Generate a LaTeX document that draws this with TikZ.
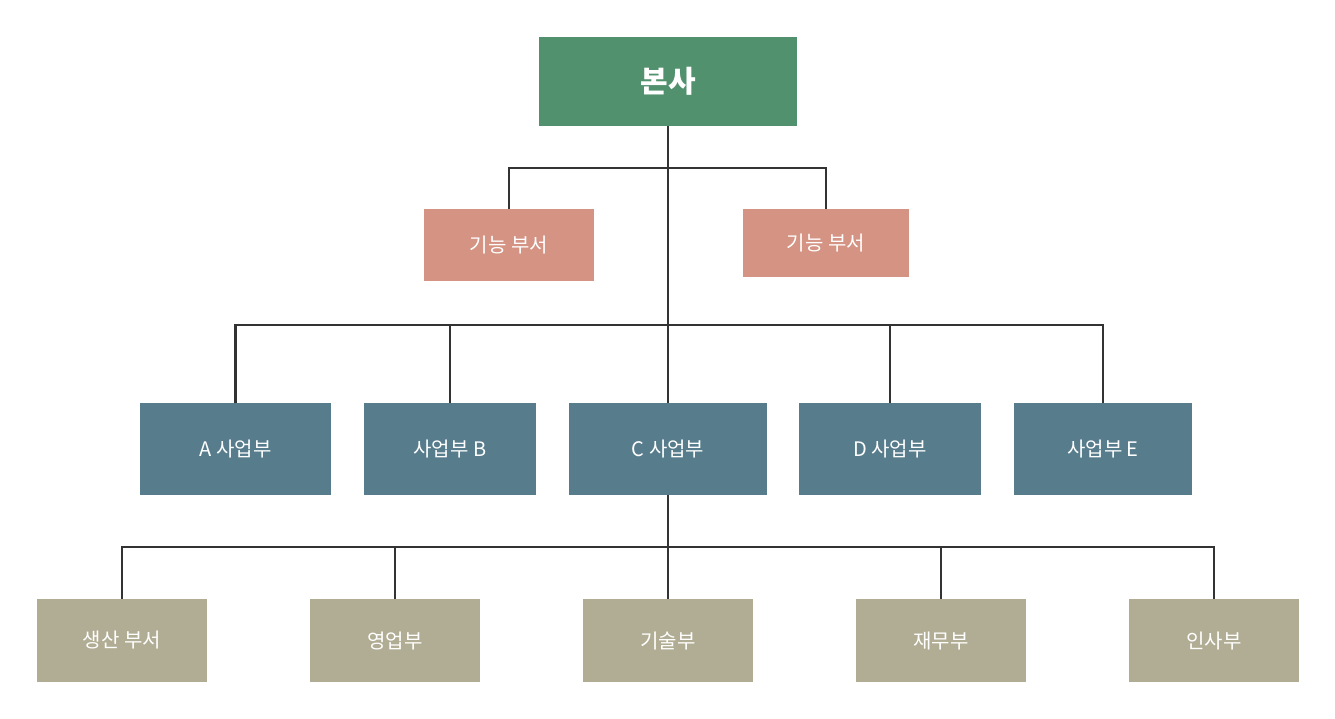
\documentclass[tikz,border=0pt]{standalone}
\usepackage{fontspec}
\setmainfont{Noto Sans CJK KR}
\definecolor{cTop}{HTML}{52916D}
\definecolor{cFun}{HTML}{D49383}
\definecolor{cBiz}{HTML}{577C8C}
\definecolor{cDep}{HTML}{B1AD94}
\definecolor{cLine}{HTML}{333333}
\begin{document}
\begin{tikzpicture}[x=1pt,y=-1pt,
  box/.style={draw=none,inner sep=0pt,text=white,font=\fontsize{20}{23}\selectfont},
  wire/.style={draw=cLine,line width=2.2pt}]
\useasboundingbox[fill=white] (0,0) rectangle (1335,718);
\newcommand{\bx}[7]{\fill[#6] (#2,#3) rectangle (#4,#5);
  \node[box] (#1) at ({(#2+#4)/2},{(#3+#5)/2}) {#7};
  \coordinate (#1t) at ({(#2+#4)/2},#3); \coordinate (#1b) at ({(#2+#4)/2},#5);}
\bx{top}{539}{37}{797}{126}{cTop}{\fontsize{30}{34}\selectfont\bfseries 본사}
\bx{f1}{424}{209}{594}{281}{cFun}{기능 부서}
\bx{f2}{743}{209}{909}{277}{cFun}{기능 부서}
\bx{a}{140}{403}{331}{495}{cBiz}{A 사업부}
\bx{b}{364}{403}{536}{495}{cBiz}{사업부 B}
\bx{c}{569}{403}{767}{495}{cBiz}{C 사업부}
\bx{d}{799}{403}{981}{495}{cBiz}{D 사업부}
\bx{e}{1014}{403}{1192}{495}{cBiz}{사업부 E}
\bx{p1}{37}{599}{207}{682}{cDep}{생산 부서}
\bx{p2}{310}{599}{480}{682}{cDep}{영업부}
\bx{p3}{583}{599}{753}{682}{cDep}{기술부}
\bx{p4}{856}{599}{1026}{682}{cDep}{재무부}
\bx{p5}{1129}{599}{1299}{682}{cDep}{인사부}
% connectors
\draw[wire] (topb) -- (ct);
\draw[wire] (f1t) |- (668,168) -| (f2t);
\foreach \n in {a,b,d,e} \draw[wire] (\n t) |- (668,325);
\draw[wire] (cb) -- (p3t);
\foreach \n in {p1,p2,p4,p5} \draw[wire] (\n t) |- (668,547);
\end{tikzpicture}
\end{document}
